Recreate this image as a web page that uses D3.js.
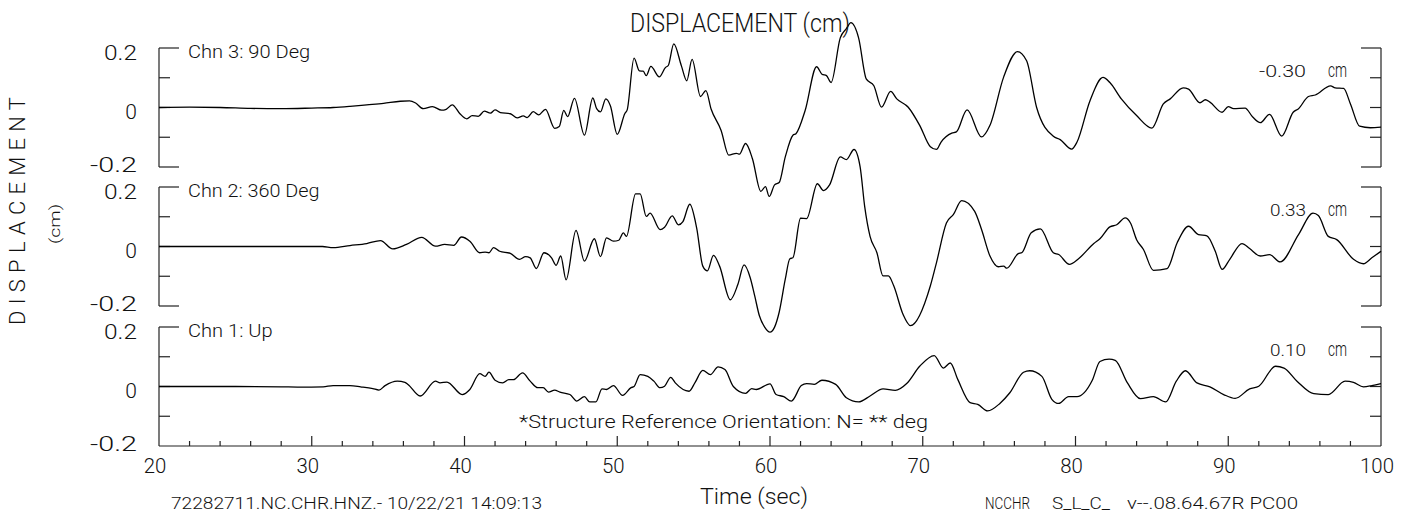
<!DOCTYPE html>
<html>
<head>
<meta charset="utf-8">
<script src="https://cdn.jsdelivr.net/npm/d3@7"></script>
<style>
  body { margin: 0; background: #fff; }
  text { font-family: Roboto, "DejaVu Sans", sans-serif; font-weight: 300; fill: #111; }
</style>
</head>
<body>
<div id="chart"></div>
<script>
// time (sec), displacement (cm)
const chn3 = [[20,0],[22,0.001],[24,0],[26,-0.003],[28,-0.004],[30,-0.002],[31.4,0],[32.5,0.004],[33.6,0.009],[34.7,0.014],[35.8,0.021],[36.4,0.022],[36.8,0.015],[37.3,-0.004],[37.9,0.003],[38.5,-0.009],[38.8,-0.006],[39.2,0.009],[39.7,-0.021],[40.15,-0.038],[40.5,-0.027],[40.9,-0.03],[41.3,-0.012],[41.7,-0.019],[42.0,-0.008],[42.35,-0.017],[43.0,-0.021],[43.45,-0.035],[43.85,-0.028],[44.1,-0.034],[44.5,-0.014],[44.85,-0.025],[45.3,-0.006],[45.9,-0.07],[46.2,-0.064],[46.5,-0.01],[46.75,-0.031],[47.2,0.031],[47.85,-0.093],[48.4,0.032],[48.65,-0.004],[48.9,-0.015],[49.25,0.029],[49.55,0.006],[50.0,-0.09],[50.5,-0.02],[50.65,-0.008],[51.1,0.166],[51.45,0.123],[51.7,0.122],[51.9,0.107],[52.2,0.138],[52.75,0.103],[53.15,0.134],[53.35,0.142],[53.7,0.214],[54.2,0.14],[54.55,0.09],[54.9,0.162],[55.45,0.037],[55.8,0.057],[56.15,-0.006],[56.8,-0.077],[57.3,-0.16],[57.8,-0.154],[58.0,-0.157],[58.4,-0.121],[58.85,-0.172],[59.4,-0.282],[59.7,-0.266],[59.95,-0.299],[60.3,-0.26],[60.6,-0.252],[61.0,-0.166],[61.5,-0.093],[61.7,-0.088],[62.3,-0.01],[63.05,0.137],[63.4,0.112],[63.7,0.107],[64.0,0.084],[64.6,0.234],[65.0,0.265],[65.3,0.285],[65.8,0.234],[66.3,0.096],[66.8,0.073],[67.3,0.001],[67.9,0.054],[68.3,0.029],[69.05,0.001],[69.8,-0.06],[70.5,-0.132],[70.9,-0.141],[71.2,-0.116],[71.9,-0.086],[72.2,-0.082],[72.9,-0.008],[73.85,-0.099],[74.4,-0.06],[75.3,0.103],[76.2,0.188],[76.8,0.157],[77.45,0.001],[78.55,-0.097],[79.0,-0.108],[79.75,-0.14],[80.1,-0.116],[80.95,0.023],[81.8,0.101],[82.25,0.084],[83.0,0.029],[84.0,-0.027],[85.0,-0.069],[85.75,0.012],[86.2,0.029],[87.05,0.066],[87.4,0.062],[88.15,0.016],[88.5,0.026],[88.8,0.018],[89.6,-0.016],[90.0,0.003],[90.35,-0.004],[91.1,-0.002],[91.6,-0.032],[92.1,-0.051],[92.7,-0.023],[93.5,-0.096],[94.25,-0.016],[94.6,-0.004],[95.25,0.037],[95.7,0.042],[96.7,0.073],[97.0,0.066],[97.55,0.064],[98.0,0.012],[98.6,-0.063],[99.3,-0.068],[100,-0.066]];

const chn2 = [[20,0],[25,0],[30.7,0],[31.4,-0.004],[32.5,0.003],[33.6,0.01],[34.5,0.02],[35.3,-0.008],[36.2,0.007],[37.2,0.031],[38.1,0.001],[38.7,0.007],[39.3,0.004],[39.8,0.032],[40.35,0.018],[41.0,-0.021],[41.35,-0.019],[41.6,-0.021],[41.9,-0.004],[42.3,-0.016],[43.0,-0.023],[43.6,-0.043],[44.0,-0.034],[44.3,-0.038],[44.7,-0.074],[45.2,-0.021],[45.7,-0.038],[46.0,-0.063],[46.3,-0.032],[46.65,-0.112],[47.3,0.054],[47.85,-0.049],[48.5,0.026],[48.9,-0.034],[49.3,0.029],[49.75,0.018],[50.1,0.021],[50.4,0.046],[50.6,0.034],[51.2,0.177],[51.5,0.177],[51.9,0.101],[52.15,0.112],[52.8,0.057],[53.1,0.065],[53.6,0.103],[54.0,0.073],[54.3,0.084],[54.75,0.142],[55.2,0.062],[55.6,-0.066],[55.9,-0.082],[56.3,-0.03],[56.7,-0.066],[57.4,-0.179],[57.9,-0.127],[58.3,-0.062],[58.7,-0.104],[59.0,-0.166],[59.3,-0.232],[59.65,-0.271],[60.0,-0.288],[60.3,-0.271],[60.6,-0.221],[61.0,-0.11],[61.3,-0.041],[61.5,-0.038],[62.0,0.095],[62.4,0.094],[63.1,0.211],[63.5,0.188],[63.9,0.207],[64.6,0.301],[65.0,0.292],[65.5,0.326],[65.9,0.268],[66.2,0.134],[66.55,0.034],[67.0,-0.021],[67.4,-0.099],[67.75,-0.099],[68.1,-0.132],[68.7,-0.227],[69.2,-0.266],[70.5,-0.132],[70.9,-0.054],[71.55,0.079],[72.0,0.107],[72.55,0.154],[73.4,0.118],[73.85,0.057],[74.4,-0.032],[74.95,-0.068],[75.3,-0.066],[75.5,-0.073],[76.25,-0.024],[76.5,-0.02],[77.1,0.046],[77.7,0.059],[78.55,-0.021],[78.9,-0.027],[79.6,-0.06],[80.2,-0.041],[81.2,0.01],[81.6,0.026],[82.25,0.066],[82.7,0.073],[83.25,0.096],[83.6,0.079],[84.0,0.023],[84.45,-0.01],[85.1,-0.08],[86.0,-0.074],[86.65,0.012],[87.4,0.068],[88.05,0.04],[88.6,0.036],[89.15,-0.016],[89.6,-0.077],[90.1,-0.043],[90.9,0.01],[91.4,-0.007],[92.1,-0.032],[92.7,-0.027],[93.4,-0.052],[94.6,0.04],[95.55,0.112],[95.9,0.104],[96.55,0.034],[97.1,0.023],[98.2,-0.043],[98.85,-0.058],[99.4,-0.038],[100,-0.016]];

const chn1 = [[20,0],[25,0],[28,-0.001],[29.2,-0.002],[30.75,-0.001],[31.4,0.003],[32.5,0.003],[33.2,-0.001],[34.0,-0.007],[34.4,-0.012],[34.8,0.003],[35.6,0.018],[36.1,0.014],[36.3,0.007],[37.1,-0.032],[38.1,0.018],[38.4,0.012],[38.85,0.015],[39.85,-0.027],[40.35,-0.01],[41.0,0.043],[41.35,0.034],[41.6,0.048],[42.0,0.021],[42.5,0.012],[42.9,0.023],[43.2,0.023],[43.8,0.046],[44.3,0.018],[44.8,-0.004],[45.15,-0.004],[45.5,-0.019],[45.9,-0.012],[46.25,-0.019],[46.9,-0.027],[47.35,-0.049],[47.85,-0.034],[48.2,-0.052],[48.6,-0.052],[49.0,-0.008],[49.3,-0.01],[49.75,0.003],[50.35,-0.03],[50.9,-0.004],[51.1,0],[51.5,0.04],[52.0,0.034],[52.4,0.018],[52.8,-0.004],[53.1,0.001],[53.5,0.031],[53.8,0.012],[54.7,-0.016],[55.1,0.014],[55.6,0.054],[56.1,0.04],[56.6,0.066],[57.05,0.057],[57.6,0],[58.4,-0.023],[58.8,-0.007],[59.1,-0.01],[60.0,0.009],[60.4,-0.027],[60.9,-0.034],[61.4,-0.049],[62.05,0.003],[62.4,0.01],[62.9,0.007],[63.4,0.021],[64.3,0.007],[65.0,-0.038],[65.8,-0.052],[66.55,-0.032],[67.4,-0.008],[68.2,-0.013],[68.95,0.01],[69.8,0.068],[70.75,0.104],[71.35,0.062],[71.8,0.079],[72.3,0.023],[73.1,-0.054],[73.6,-0.06],[74.25,-0.082],[75.05,-0.057],[75.7,-0.021],[76.6,0.048],[77.0,0.053],[77.8,0.034],[78.45,-0.043],[78.9,-0.057],[79.55,-0.034],[80.1,-0.034],[81.1,0.021],[81.6,0.084],[82.2,0.092],[82.6,0.088],[83.4,0.012],[84.25,-0.041],[85.1,-0.034],[85.9,-0.052],[86.6,0.018],[87.2,0.053],[87.95,0.012],[88.8,-0.001],[89.7,-0.027],[90.45,-0.04],[91.4,-0.008],[92.0,0.001],[93.1,0.068],[93.65,0.062],[94.5,0.018],[95.6,-0.024],[96.55,-0.027],[97.65,0.018],[98.2,0.014],[98.85,-0.001],[99.4,0.003],[100,0.01]];

const channelNames = ["Chn 3: 90 Deg", "Chn 2: 360 Deg", "Chn 1: Up"];
const peakLabels = ["-0.30", "0.33", "0.10"];
const yTicks = [-0.2, -0.1, 0, 0.1, 0.2];
const yTickLabels = ["-0.2", "", "0", "", "0.2"];
const xMajor = [20, 30, 40, 50, 60, 70, 80, 90, 100];

const width = 1413, height = 514;
const svg = d3.select("#chart").append("svg")
    .attr("width", width)
    .attr("height", height);

const x = d3.scaleLinear().domain([20, 100]).range([159, 1381]);
const panelTop = [48, 187, 327], panelH = 119;
const axisColor = "#222";

function label(px, py, str, size, anchor, len) {
    const t = svg.append("text")
        .attr("x", px).attr("y", py)
        .attr("font-size", size)
        .attr("text-anchor", anchor || "start")
        .text(str);
    if (len) t.attr("textLength", len).attr("lengthAdjust", "spacingAndGlyphs");
    return t;
}

const traces = [chn3, chn2, chn1];

traces.forEach((data, i) => {
    const top = panelTop[i];
    const y = d3.scaleLinear().domain([-0.2, 0.2]).range([top + panelH, top]);
    const g = svg.append("g");

    // side brackets
    [x(20), x(100)].forEach((ax, k) => {
        const dir = k === 0 ? 1 : -1;
        g.append("line")
            .attr("x1", ax).attr("x2", ax)
            .attr("y1", y(0.2)).attr("y2", y(-0.2))
            .attr("stroke", axisColor).attr("stroke-width", 1.2);
        yTicks.forEach(v => {
            if (i === 2 && v === -0.2) return;
            const len = Math.abs(v) === 0.2 ? 20 : 11;
            g.append("line")
                .attr("x1", ax).attr("x2", ax + dir * len)
                .attr("y1", y(v)).attr("y2", y(v))
                .attr("stroke", axisColor).attr("stroke-width", 1.2);
        });
    });

    // tick labels on the left
    yTicks.forEach((v, j) => {
        if (!yTickLabels[j]) return;
        const off = v > 0 ? 12 : (v === 0 ? 11 : 5);
        const len = yTickLabels[j].length === 3 ? 33 : (yTickLabels[j].length === 4 ? 47 : null);
        label(137, y(v) + off, yTickLabels[j], 21, "end", len);
    });

    label(188, y(0.2) + 10, channelNames[i], 18, "start", channelNames[i].length * 9.4);
    label(1306, y(0.2) + 29, peakLabels[i], 17, "end", peakLabels[i].length === 5 ? 47 : 36);
    label(1328, y(0.2) + 29, "cm", 21, "start", 19);

    const line = d3.line()
        .x(d => x(d[0]))
        .y(d => y(d[1]))
        .curve(d3.curveMonotoneX);

    g.append("path")
        .datum(data)
        .attr("d", line)
        .attr("fill", "none")
        .attr("stroke", "#000")
        .attr("stroke-width", 1.3);
});

// time axis
const yBase = panelTop[2] + panelH;
svg.append("line")
    .attr("x1", x(20)).attr("x2", x(100))
    .attr("y1", yBase).attr("y2", yBase)
    .attr("stroke", axisColor).attr("stroke-width", 1.2);

d3.range(22, 100, 2).forEach(t => {
    const major = t % 10 === 0;
    svg.append("line")
        .attr("x1", x(t)).attr("x2", x(t))
        .attr("y1", yBase).attr("y2", yBase - (major ? 10 : 5))
        .attr("stroke", axisColor).attr("stroke-width", 1.2);
});

xMajor.forEach(t => {
    const s = String(t);
    label(x(t) - 4, 473, s, 21, "middle", s.length * 11.3);
});

label(754, 504, "Time (sec)", 22, "middle", 108);
label(740, 32, "DISPLACEMENT (cm)", 26, "middle", 220);
label(519, 428, "*Structure Reference Orientation: N= ** deg", 18, "start", 409);
label(171, 509, "72282711.NC.CHR.HNZ.- 10/22/21 14:09:13", 17, "start", 371);
label(985, 509, "NCCHR", 17, "start", 45);
label(1052, 509, "S_L_C_", 17, "start", 58);
label(1127, 509, "v--.08.64.67R PC00", 17, "start", 171);

svg.append("text")
    .attr("transform", "translate(25,211) rotate(-90)")
    .attr("font-size", 22)
    .attr("text-anchor", "middle")
    .attr("textLength", 228)
    .attr("lengthAdjust", "spacing")
    .text("DISPLACEMENT");

svg.append("text")
    .attr("transform", "translate(60,224) rotate(-90)")
    .attr("font-size", 15)
    .attr("text-anchor", "middle")
    .attr("textLength", 40)
    .attr("lengthAdjust", "spacingAndGlyphs")
    .text("(cm)");
</script>
</body>
</html>
